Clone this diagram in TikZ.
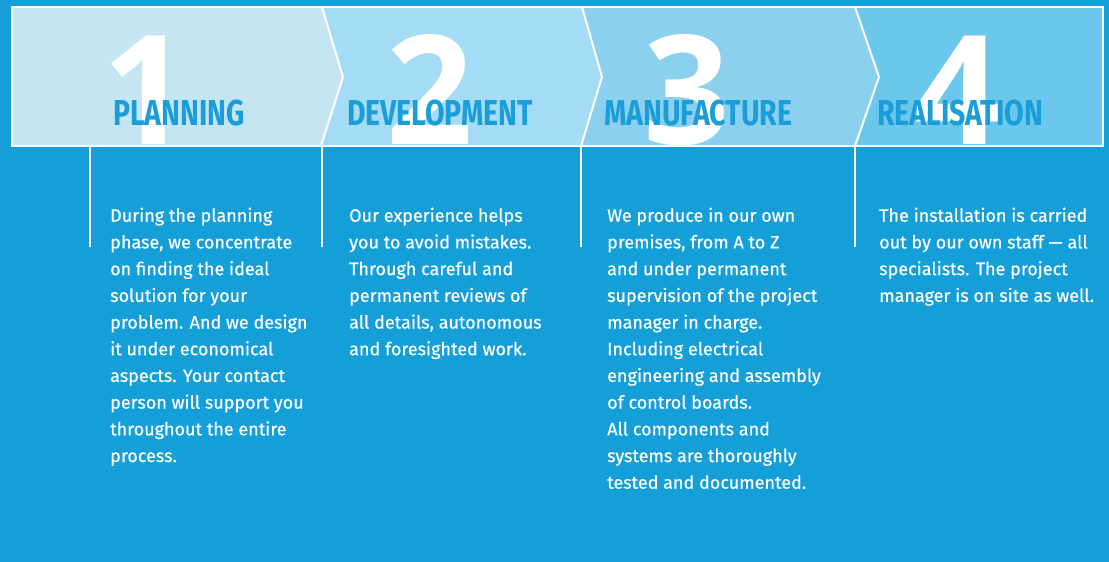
\documentclass[tikz,border=0pt]{standalone}
\usepackage{fontspec}
\setmainfont{Fira Sans}[FakeBold=0.4]
\newfontfamily\headfont[FakeStretch=0.79]{Fira Sans}
\newfontfamily\digitfont{Open Sans}
\definecolor{bg}{HTML}{149FD9}
\definecolor{cA}{HTML}{C5E5F3}
\definecolor{cB}{HTML}{A5DCF5}
\definecolor{cC}{HTML}{8BD0EF}
\definecolor{cD}{HTML}{6CC7EC}
\definecolor{lab}{HTML}{1A9ED9}
\begin{document}
\begin{tikzpicture}[x=1pt,y=-1pt,
  bodytext/.style={anchor=north west,inner sep=0pt,align=left,text=white,
    font=\fontsize{18}{26.7}\selectfont},
  steplabel/.style={anchor=base west,inner sep=0pt,text=lab,
    font=\headfont\bfseries\fontsize{36}{36}\selectfont},
  bignum/.style={anchor=base west,inner sep=0pt,text=white,
    font=\digitfont\bfseries\fontsize{152}{152}\selectfont},
  sepline/.style={draw=white,line width=2pt},
  tick/.style={draw=white,line width=2pt}]
\useasboundingbox (0,0) rectangle (1109,562);
\fill[bg] (0,0) rectangle (1109,562);
% header segments
\fill[cA] (12,7) -- (322,7) -- (343,77) -- (321,146) -- (12,146) -- cycle;
\fill[cB] (322,7) -- (582,7) -- (602,77) -- (581,146) -- (321,146) -- (343,77) -- cycle;
\fill[cC] (582,7) -- (855,7) -- (879,77) -- (855,146) -- (581,146) -- (602,77) -- cycle;
\fill[cD] (855,7) -- (1103,7) -- (1103,146) -- (855,146) -- (879,77) -- cycle;
% big numbers
\begin{scope}
\clip (12,7) rectangle (1103,146);
\node[bignum] (n1) at (102,144) {1};
\node[bignum] (n2) at (386,144) {2};
\node[bignum] (n3) at (643,144) {3};
\node[bignum] (n4) at (914,144) {4};
\end{scope}
% labels
\node[steplabel] (l1) at (113,125) {PLANNING};
\node[steplabel] (l2) at (347,125) {DEVELOPMENT};
\node[steplabel] (l3) at (604,125) {MANUFACTURE};
\node[steplabel] (l4) at (877,125) {REALISATION};
% outline and chevrons
\draw[sepline] (322,7) -- (343,77) -- (321,146);
\draw[sepline] (582,7) -- (602,77) -- (581,146);
\draw[sepline] (855,7) -- (879,77) -- (855,146);
\draw[white,line width=2.7pt] (12,7) rectangle (1103,146);
% ticks
\coordinate (a1) at (90,146);  \coordinate (b1) at (90,247);
\coordinate (a2) at (322,146); \coordinate (b2) at (322,247);
\coordinate (a3) at (581,146); \coordinate (b3) at (581,247);
\coordinate (a4) at (855,146); \coordinate (b4) at (855,247);
\draw[tick] (a1) -- (b1);
\draw[tick] (a2) -- (b2);
\draw[tick] (a3) -- (b3);
\draw[tick] (a4) -- (b4);
% body texts
\node[bodytext] (t1) at (110,207.5) {During the planning\\phase, we concentrate\\on finding the ideal\\solution for your\\problem. And we design\\it under economical\\aspects. Your contact\\person will support you\\throughout the entire\\process.};
\node[bodytext] (t2) at (349,207.5) {Our experience helps\\you to avoid mistakes.\\Through careful and\\permanent reviews of\\all details, autonomous\\and foresighted work.};
\node[bodytext] (t3) at (607,207.5) {We produce in our own\\premises, from A to Z\\and under permanent\\supervision of the project\\manager in charge.\\Including electrical\\engineering and assembly\\of control boards.\\All components and\\systems are thoroughly\\tested and documented.};
\node[bodytext] (t4) at (879,207.5) {The installation is carried\\out by our own staff — all\\specialists. The project\\manager is on site as well.};
\end{tikzpicture}
\end{document}
